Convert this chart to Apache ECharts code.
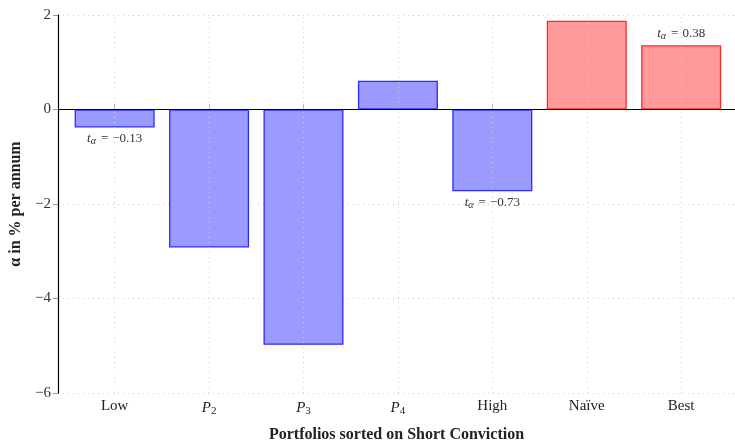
<!DOCTYPE html>
<html><head><meta charset="utf-8">
<script src="https://cdn.jsdelivr.net/npm/echarts@6/dist/echarts.min.js"></script>
<style>html,body{margin:0;padding:0;background:#fff}#c{width:735px;height:442px}</style>
</head><body><div id="c"></div>
<script>
const categories = ['Low', 'P2', 'P3', 'P4', 'High', 'Naïve', 'Best'];
const alphaValues = [-0.38, -2.92, -4.98, 0.61, -1.73, 1.88, 1.36];
const groups = ['sorted', 'sorted', 'sorted', 'sorted', 'sorted', 'bench', 'bench'];
const tStats = ['−0.13', null, null, null, '−0.73', null, '0.38'];
const yTicks = [-6, -4, -2, 0, 2];

const FONT = 'Liberation Serif';
const styles = {
  sorted: { color: '#9a9aff', borderColor: '#2a2aff' },
  bench: { color: '#ff9a9a', borderColor: '#ff2a2a' }
};
const idx = categories.map((_, i) => i);
const rich = {
  i: { fontFamily: FONT, fontStyle: 'italic', fontSize: 15, color: '#222' },
  s: { fontFamily: FONT, fontSize: 11, color: '#222', padding: [7, 0, 0, 0] },
  n: { fontFamily: FONT, fontSize: 15, color: '#222' },
  t: { fontFamily: FONT, fontStyle: 'italic', fontSize: 13, color: '#333' },
  a: { fontFamily: FONT, fontStyle: 'italic', fontSize: 10, color: '#333', padding: [5, 0, 0, 0] },
  e: { fontFamily: FONT, fontSize: 13, color: '#333', padding: [0, 4, 0, 5] },
  v: { fontFamily: FONT, fontSize: 13, color: '#333' }
};
function catLabel(v) {
  const name = categories[Math.round(v)];
  const m = /^P(\d)$/.exec(name);
  if (m) return '{i|P}{s|' + m[1] + '}';
  return '{n|' + name + '}';
}
const data = alphaValues.map((v, i) => {
  const item = { value: [i, v], itemStyle: Object.assign({ borderWidth: 1.3 }, styles[groups[i]]) };
  if (tStats[i]) {
    item.label = { show: true, position: 'outside', distance: 4, formatter: '{t|t}{a|α}{e|=}{v|' + tStats[i] + '}', rich: rich };
  }
  return item;
});

const chart = echarts.init(document.getElementById('c'), null, { renderer: 'canvas' });
chart.setOption({
  animation: false,
  backgroundColor: '#fff',
  grid: { left: 58, right: 0, top: 15, bottom: 49, containLabel: false, outerBoundsMode: 'none' },
  xAxis: {
    type: 'value', min: -0.6, max: 6.57,
    axisLine: { show: false },
    axisTick: { show: true, inside: true, length: 5, customValues: idx, lineStyle: { color: '#aaa' } },
    axisLabel: { customValues: idx, formatter: catLabel, rich: rich, margin: 6 },
    splitLine: { show: false },
    name: 'Portfolios sorted on Short Conviction', nameLocation: 'middle', nameGap: 34,
    nameTextStyle: { fontFamily: FONT, fontWeight: 'bold', fontSize: 16, color: '#222' }
  },
  yAxis: {
    type: 'value', min: -6, max: 2, interval: 2,
    axisLine: { show: true, onZero: false, lineStyle: { color: '#000', width: 1.2 } },
    axisTick: { show: true, length: 5, lineStyle: { color: '#999' } },
    axisLabel: { fontFamily: FONT, fontSize: 15, color: '#333', margin: 7, formatter: v => (v < 0 ? '−' + (-v) : String(v)) },
    splitLine: { show: true, lineStyle: { color: '#d0d0d0', type: [1, 4], width: 1 } },
    name: 'α in % per annum', nameLocation: 'middle', nameGap: 27,
    nameTextStyle: { fontFamily: FONT, fontWeight: 'bold', fontSize: 16, color: '#222' }
  },
  series: [{
    type: 'bar', barWidth: 80, data: data,
    markLine: {
      silent: true, symbol: 'none', label: { show: false },
      data: idx.map(i => ({ xAxis: i, lineStyle: { color: '#d0d0d0', type: [1, 4], width: 1 } }))
        .concat([{ yAxis: 0, lineStyle: { color: '#000', type: 'solid', width: 1.2 } }])
    }
  }]
});
</script></body></html>
